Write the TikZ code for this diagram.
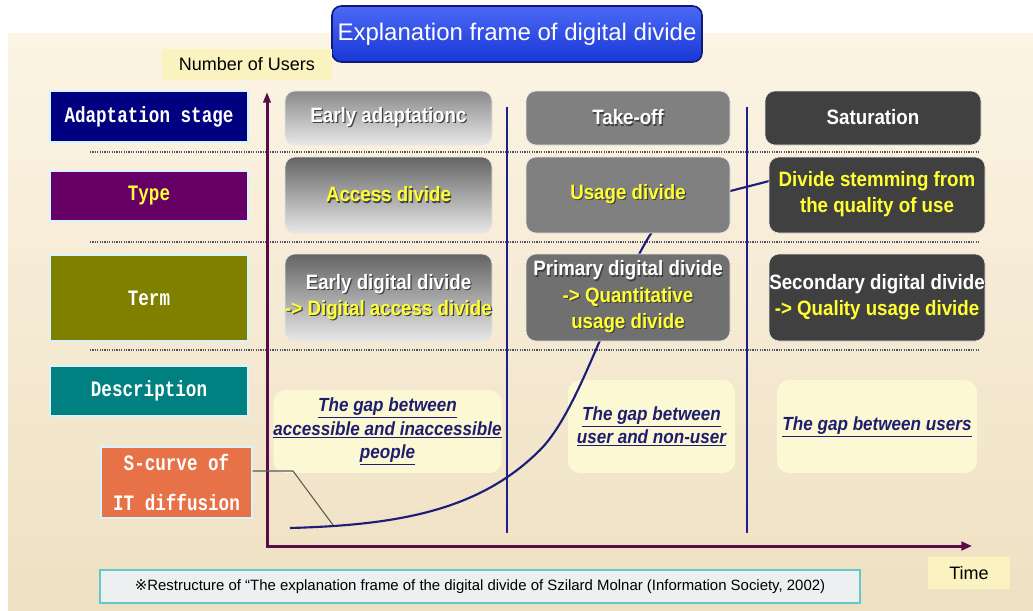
\documentclass[tikz,border=0pt]{standalone}
\usepackage{fontspec}
\setmainfont{Liberation Sans}
\newfontfamily\boxfont[FakeStretch=0.9]{Liberation Sans}
\newfontfamily\labfont[FakeStretch=0.8]{Liberation Mono}
\newfontfamily\symfont{DejaVu Sans}
\usepackage{xcolor}
\usetikzlibrary{arrows.meta}

\definecolor{creamtop}{RGB}{252,244,228}
\definecolor{creambot}{RGB}{238,224,194}
\definecolor{titletop}{RGB}{75,105,245}
\definecolor{titlebot}{RGB}{25,55,215}
\definecolor{titleedge}{RGB}{15,25,120}
\definecolor{noteyellow}{RGB}{250,243,192}
\definecolor{labnavy}{RGB}{0,0,128}
\definecolor{labpurple}{RGB}{102,0,102}
\definecolor{labolive}{RGB}{128,128,0}
\definecolor{labteal}{RGB}{0,128,128}
\definecolor{laborange}{RGB}{232,114,72}
\definecolor{axiscol}{RGB}{90,12,72}
\definecolor{divline}{RGB}{30,30,140}
\definecolor{rowdot}{RGB}{80,80,100}
\definecolor{curvecol}{RGB}{30,30,120}
\definecolor{txtyellow}{RGB}{255,255,50}
\definecolor{descyellow}{RGB}{253,248,212}
\definecolor{desctext}{RGB}{30,30,110}
\definecolor{graydark}{RGB}{64,64,64}
\definecolor{graymid}{RGB}{128,128,128}
\definecolor{grayterm}{RGB}{112,112,112}
\definecolor{shadetop}{RGB}{100,100,100}
\definecolor{shadetopl}{RGB}{138,138,138}
\definecolor{shadebot}{RGB}{232,232,232}
\definecolor{footfill}{RGB}{236,240,240}
\definecolor{footedge}{RGB}{100,200,200}

% text with a small drop shadow
\newcommand{\shd}[1]{\rlap{\kern0.9pt\raisebox{-0.9pt}{\color{black!75}#1}}#1}
\newcommand{\yel}[1]{\textcolor{txtyellow}{\shd{#1}}}

\begin{document}
\begin{tikzpicture}[x=0.75pt,y=0.75pt,yscale=-1,xscale=1,
  sz/.style 2 args={minimum width={#1*0.75pt},minimum height={#2*0.75pt}},
  titlebox/.style={rounded corners=7pt,top color=titletop,bottom color=titlebot,draw=titleedge,line width=1.2pt,inner sep=0pt,text=white,font=\fontsize{18}{22}\selectfont},
  notebox/.style={fill=noteyellow,inner sep=0pt,font=\fontsize{13.5}{16}\selectfont},
  leftlab/.style={draw=white!85!cyan,line width=0.8pt,inner sep=0pt,align=center,text=white,font=\labfont\bfseries\fontsize{16.5}{20}\selectfont},
  stagebox/.style={rounded corners=7.5pt,draw=white!80!gray,line width=0.5pt,inner sep=0pt,align=center,text=white,font=\boxfont\bfseries\fontsize{15.6}{19.75}\selectfont},
  descbox/.style={rounded corners=9pt,fill=descyellow,inner sep=0pt,align=center,text=desctext,font=\boxfont\bfseries\itshape\fontsize{14.25}{17.5}\selectfont},
  axisline/.style={draw=axiscol,line width=2.25pt},
  divider/.style={draw=divline,line width=1.5pt},
  rowsep/.style={draw=rowdot,line width=1.2pt,dash pattern=on 0.9pt off 0.9pt},
]
\useasboundingbox (0,0) rectangle (1033,611);

%Shape: background
\fill[white] (0,0) rectangle (1033,611);
\shade[top color=creamtop,bottom color=creambot] (8,33) rectangle (1033,611);

%Shape: title
\node (title) [titlebox,sz={370}{56}] at (517,34) {Explanation frame of digital divide};
% Text Node
\node (users) [notebox,sz={170}{31}] at (247,64.5) {Number of Users};
% Text Node
\node (time) [notebox,sz={82}{32}] at (969,573) {Time};

%Straight Lines: row separators
\draw[rowsep] (90,152) -- (980,152);
\draw[rowsep] (90,242) -- (980,242);
\draw[rowsep] (90,350) -- (980,350);

%Straight Lines: stage dividers
\draw[divider] (507,107) -- (507,533);
\draw[divider] (747,107) -- (747,533);

%Shape: Axis 2D
\coordinate (origin) at (267,546);
\coordinate (ytop) at (267,92);
\coordinate (xend) at (972,546);
\draw[axisline,{Triangle[length=8pt,width=5.5pt]}-{Triangle[length=8pt,width=6.5pt]}] (ytop) -- (origin) -- (xend);

%Shape: description boxes
\node (descA) [descbox,sz={219}{83}] at (387.5,431.5) {\underline{The gap between}\\\underline{accessible and inaccessible}\\\underline{people}};
\node (descB) [descbox,sz={167}{93}] at (651.5,426.5) {\underline{The gap between}\\\underline{user and non-user}};
\node (descC) [descbox,sz={200}{93}] at (877,426.5) {\underline{The gap between users}};

%Curve Lines: diffusion curve
\coordinate (s0) at (290,528);
\coordinate (s1) at (540,450);
\coordinate (s2) at (650,235);
\coordinate (s3) at (780,178);
\draw[curvecol,line width=1.6pt] (s0) .. controls (400,525) and (480,510) .. (s1) .. controls (580,410) and (610,300) .. (s2) .. controls (672,200) and (720,195) .. (s3);

%Shape: early adaptation column
\node (stageA) [stagebox,top color=shadetopl,bottom color=shadebot,sz={207}{54}] at (388.5,118) {\shd{Early adaptationc}};
\node (typeA) [stagebox,top color=shadetop,bottom color=shadebot,sz={207}{76}] at (388.5,195) {\yel{Access divide}};
\node (termA) [stagebox,top color=shadetop,bottom color=shadebot,sz={207}{87}] at (388.5,297.5) {\shd{Early digital divide}\\\yel{-> Digital access divide}};

%Shape: take-off column
\node (stageB) [stagebox,fill=graymid,sz={204}{54}] at (628,118) {\shd{Take-off}};
\node (typeB) [stagebox,fill=graymid,sz={204}{76}] at (628,195) {\yel{Usage divide}};
\node (termB) [stagebox,fill=grayterm,sz={204}{87}] at (628,297.5) {\shd{Primary digital divide}\\\yel{-> Quantitative}\\\yel{usage divide}};

%Shape: saturation column
\node (stageC) [stagebox,fill=graydark,sz={216}{54}] at (873,118) {\shd{Saturation}};
\node (typeC) [stagebox,fill=graydark,sz={216}{76}] at (877,195) {\yel{Divide stemming from}\\\yel{the quality of use}};
\node (termC) [stagebox,fill=graydark,sz={216}{87}] at (877,297.5) {\shd{Secondary digital divide}\\\yel{-> Quality usage divide}};

%Shape: row labels
\node (adapt) [leftlab,fill=labnavy,sz={198}{51}] at (149,116.5) {Adaptation stage};
\node (type) [leftlab,fill=labpurple,text=txtyellow,sz={198}{50}] at (149,196) {Type};
\node (term) [leftlab,fill=labolive,sz={198}{86}] at (149,298) {Term};
\node (descr) [leftlab,fill=labteal,sz={198}{50}] at (149,391) {Description};
\node (scurve) [leftlab,fill=laborange,font=\labfont\bfseries\fontsize{16.5}{30}\selectfont,sz={151}{71}] at (176.5,482.5) {S-curve of\\IT diffusion};

%Straight Lines: pointer to the curve
\coordinate (sbend) at (293,471);
\coordinate (sfoot) at (333,525);
\draw[black!65,line width=0.8pt] (scurve.east |- sbend) -- (sbend) -- (sfoot);

% Text Node: source note
\node (source) [fill=footfill,draw=footedge,line width=1.5pt,inner sep=0pt,sz={760}{33},font=\fontsize{11.2}{13}\selectfont] at (480,586.5) {{\symfont ※}Restructure of “The explanation frame of the digital divide of Szilard Molnar (Information Society, 2002)};

\end{tikzpicture}
\end{document}
